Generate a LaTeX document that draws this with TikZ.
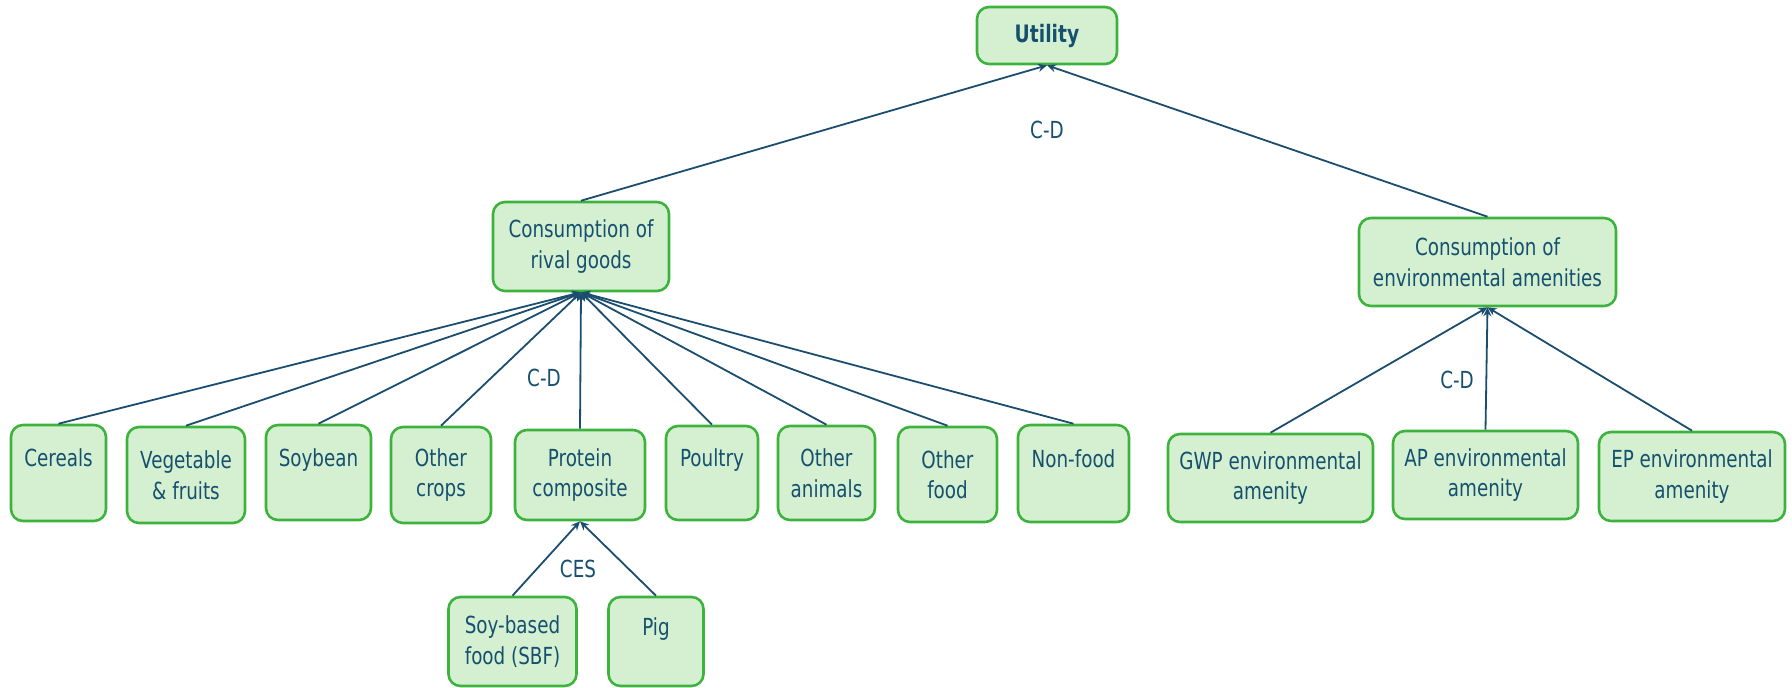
\documentclass[tikz,border=0pt]{standalone}
\usepackage{fontspec}
\setmainfont{DejaVu Sans}[FakeStretch=0.78]
\usetikzlibrary{arrows.meta}
\definecolor{gfill}{HTML}{D5F0D1}
\definecolor{gborder}{HTML}{3DB33D}
\definecolor{tcol}{HTML}{15506F}
\definecolor{lcol}{HTML}{1B4D6E}
\tikzset{
  gbox/.style={draw=gborder, fill=gfill, rounded corners=12pt, line width=2.6pt, text=tcol,
    align=center, inner sep=0pt, font=\fontsize{23.5}{30.5}\selectfont},
  conn/.style={draw=lcol, line width=1.8pt, -{Stealth[length=9pt,width=8pt]}},
  lbl/.style={text=tcol, font=\fontsize{23.5}{30}\selectfont}
}
\begin{document}
\begin{tikzpicture}[x=1pt,y=-1pt]
\useasboundingbox[fill=white] (0,0) rectangle (1792,688);
\node[gbox, minimum width=140pt, minimum height=57pt, font=\fontsize{24}{30}\selectfont\bfseries] (util) at (1047,35.5) {Utility};
\node[gbox, minimum width=176pt, minimum height=89pt] (rival) at (581,246.5) {Consumption of\\rival goods};
\node[gbox, minimum width=257pt, minimum height=88pt] (env) at (1487.5,262) {Consumption of\\environmental amenities};
\node[gbox, minimum width=95pt, minimum height=96pt] (cer) at (58.5,473) {Cereals\\\mbox{}};
\node[gbox, minimum width=118pt, minimum height=96pt] (veg) at (186,475) {Vegetable\\\& fruits};
\node[gbox, minimum width=105pt, minimum height=95pt] (soy) at (318.5,472.5) {Soybean\\\mbox{}};
\node[gbox, minimum width=100pt, minimum height=96pt] (ocr) at (441,475) {Other\\crops};
\node[gbox, minimum width=130pt, minimum height=90pt] (prot) at (580,475) {Protein\\composite};
\node[gbox, minimum width=92pt, minimum height=94pt] (poul) at (712,473) {Poultry\\\mbox{}};
\node[gbox, minimum width=97pt, minimum height=94pt] (oani) at (826.5,473) {Other\\animals};
\node[gbox, minimum width=99pt, minimum height=95pt] (ofood) at (947.5,474.5) {Other\\food};
\node[gbox, minimum width=111pt, minimum height=97pt] (nonf) at (1073.5,473.5) {Non-food\\\mbox{}};
\node[gbox, minimum width=128pt, minimum height=89pt] (sbf) at (512.5,641.5) {Soy-based\\food (SBF)};
\node[gbox, minimum width=95pt, minimum height=89pt] (pig) at (656,641.5) {Pig\\\mbox{}};
\node[gbox, minimum width=205pt, minimum height=88pt] (gwp) at (1270.5,478) {GWP environmental\\amenity};
\node[gbox, minimum width=185pt, minimum height=88pt] (ap) at (1485.5,475) {AP environmental\\amenity};
\node[gbox, minimum width=186pt, minimum height=89pt] (ep) at (1692,476.5) {EP environmental\\amenity};
\foreach \c in {cer,veg,soy,ocr,prot,poul,oani,ofood,nonf}{\draw[conn] (\c.north) -- (rival.south);}
\draw[conn] (rival.north) -- (util.south);
\draw[conn] (env.north) -- (util.south);
\draw[conn] (sbf.north) -- (prot.south);
\draw[conn] (pig.north) -- (prot.south);
\foreach \c in {gwp,ap,ep}{\draw[conn] (\c.north) -- (env.south);}
\node[lbl] (cd1) at (1047,130) {C-D};
\node[lbl] (cd2) at (544,378) {C-D};
\node[lbl] (ces) at (578,569) {CES};
\node[lbl] (cd3) at (1457,380) {C-D};
\end{tikzpicture}
\end{document}
